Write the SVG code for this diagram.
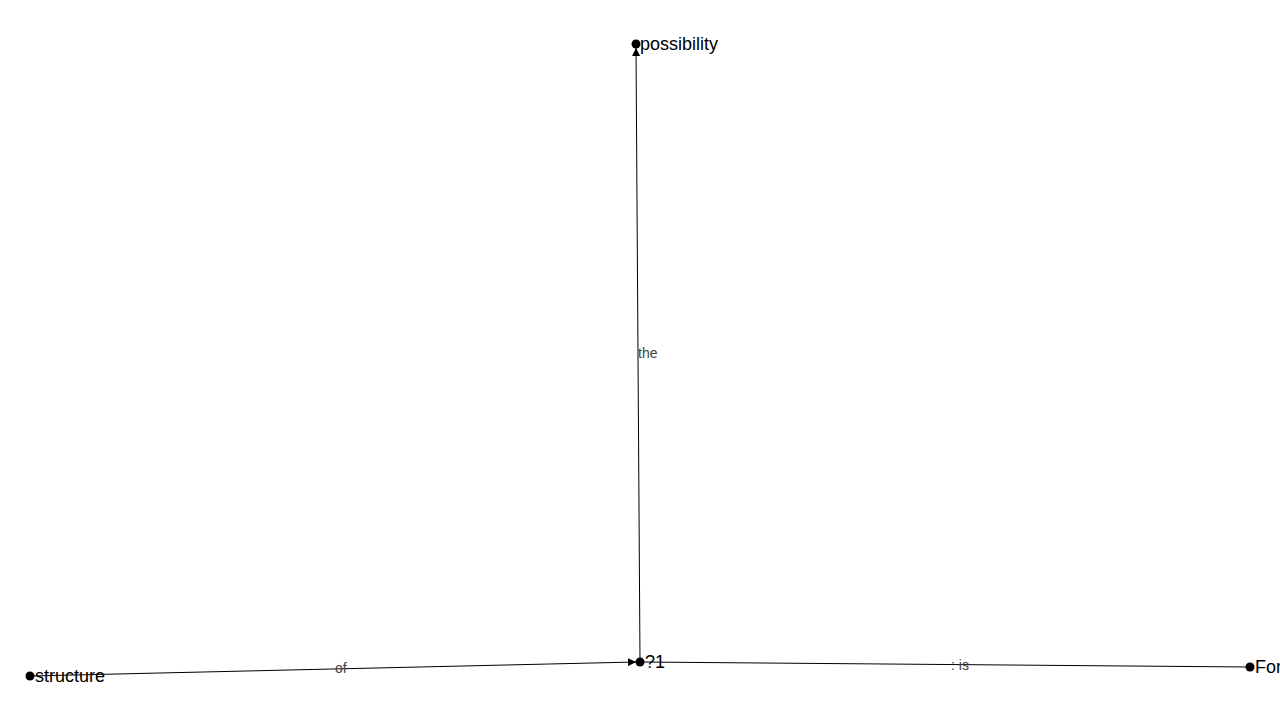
<svg xmlns="http://www.w3.org/2000/svg" width="1280" height="720" viewBox="0 0 1280 720">
<style>
.node circle{fill:#000}
.node text{font-family:"Liberation Sans",Arial,sans-serif;font-size:18px;fill:#000}
.edge line{stroke:#000;stroke-width:1}
.elabel{font-family:"Liberation Sans",Arial,sans-serif;font-size:14px;fill:#444}
</style>
<defs>
<marker id="arr" viewBox="0 0 10 10" refX="10" refY="5" markerWidth="8" markerHeight="8" markerUnits="userSpaceOnUse" orient="auto">
<path d="M0,0 L10,5 L0,10 z" fill="#000"/>
</marker>
</defs>
<rect width="1280" height="720" fill="#fff"/>
<g id="connectors">
<g class="edge"><line x1="30" y1="676" x2="636" y2="662" marker-end="url(#arr)"/><text class="elabel" x="335" y="673">of</text></g>
<g class="edge"><line x1="640" y1="662" x2="636" y2="48" marker-end="url(#arr)"/><text class="elabel" x="638" y="358">the</text></g>
<g class="edge"><line x1="640" y1="662" x2="1250" y2="667"/><text class="elabel" x="951" y="670">: is</text></g>
</g>
<g id="n-possibility" class="node"><circle cx="636" cy="44" r="4.5"/><text x="640" y="50">possibility</text></g>
<g id="n-q1" class="node"><circle cx="640" cy="662" r="4.5"/><text x="645" y="668">?1</text></g>
<g id="n-structure" class="node"><circle cx="30" cy="676" r="4.5"/><text x="35" y="682">structure</text></g>
<g id="n-for" class="node"><circle cx="1250" cy="667" r="4.5"/><text x="1255" y="673">For</text></g>
</svg>
